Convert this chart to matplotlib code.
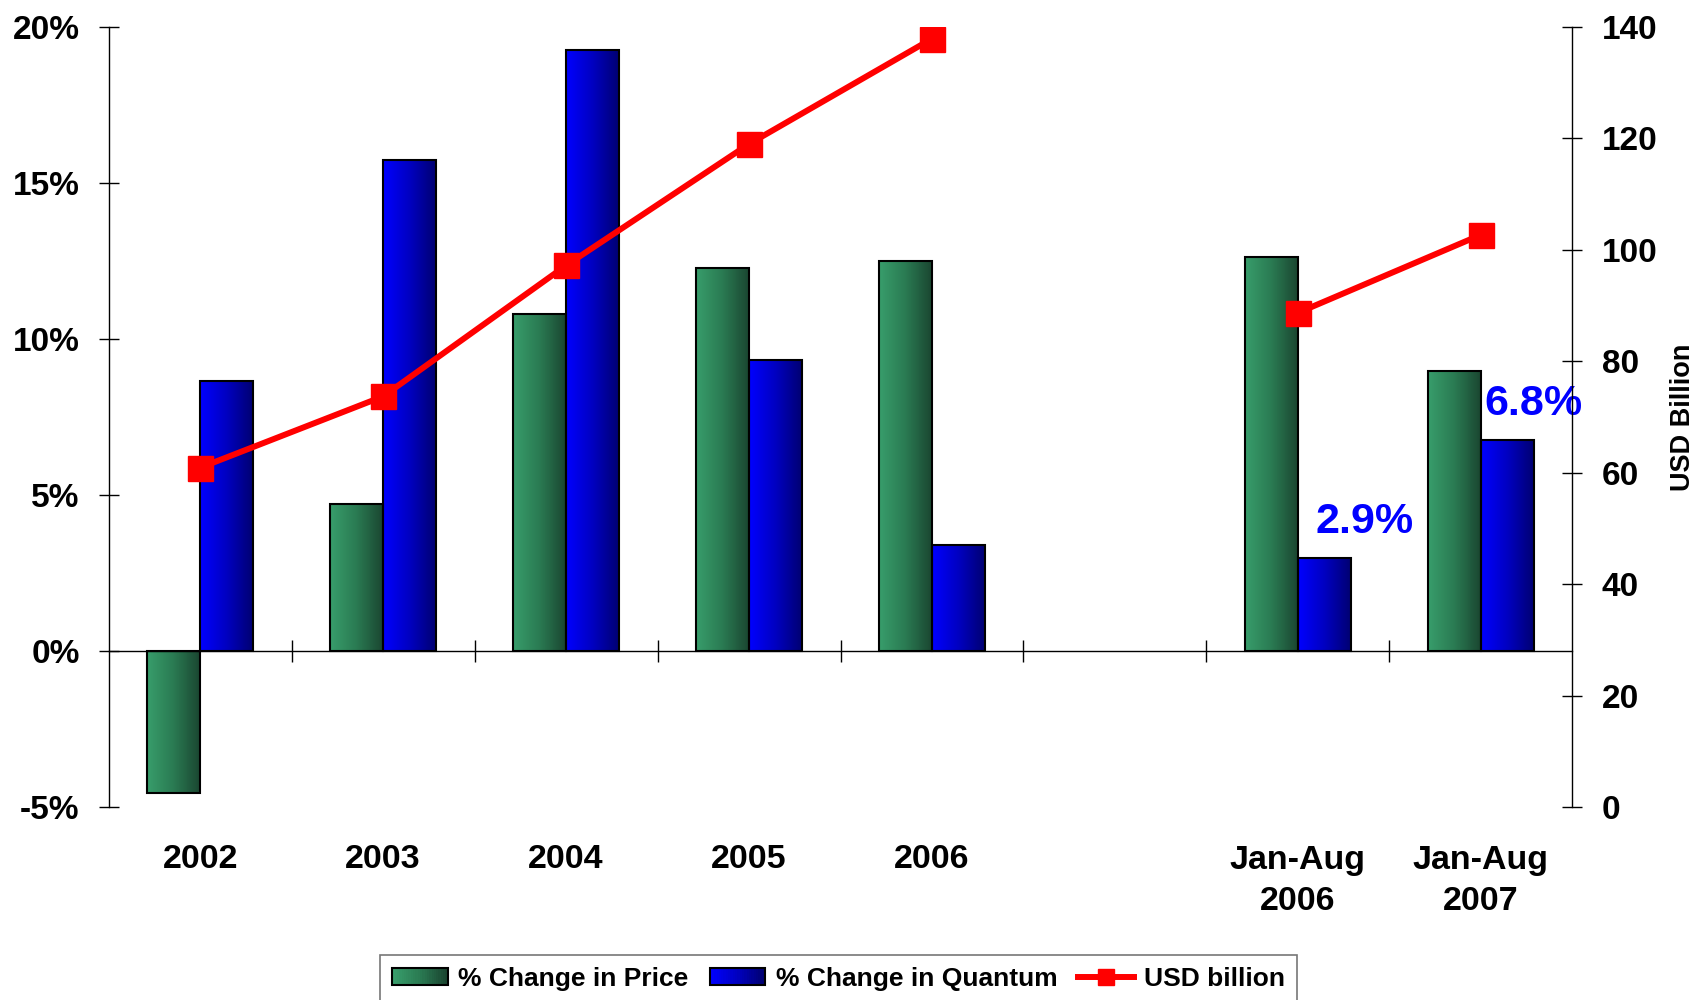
import numpy as np
import matplotlib
matplotlib.use("Agg")
import matplotlib.pyplot as plt
from matplotlib.colors import LinearSegmentedColormap
from matplotlib.patches import Rectangle
from matplotlib.lines import Line2D
from matplotlib.legend_handler import HandlerBase

# ---------- data ----------
CATEGORIES = ["2002", "2003", "2004", "2005", "2006", "", "Jan-Aug\n2006", "Jan-Aug\n2007"]
PRICE_CHG = [-4.55, 4.72, 10.8, 12.26, 12.5, np.nan, 12.64, 8.99]
QUANTUM_CHG = [8.65, 15.73, 19.27, 9.34, 3.4, np.nan, 2.99, 6.77]
USD_BILLION = [60.9, 73.7, 97.2, 119.0, 137.9, np.nan, 88.7, 102.7]
LEFT_TICKS = [-5, 0, 5, 10, 15, 20]
RIGHT_TICKS = [0, 20, 40, 60, 80, 100, 120, 140]
NOTES = {6: "2.9%", 7: "6.8%"}

plt.rcParams["font.family"] = ["Liberation Sans", "DejaVu Sans"]

GREEN = LinearSegmentedColormap.from_list("green", ["#389d6b", "#2a7a52", "#1a4530"])
BLUE = LinearSegmentedColormap.from_list("blue", ["#0000ff", "#0000c0", "#000070"])


def gradient_fill(ax, bars, cmap):
    grad = np.linspace(0, 1, 64).reshape(1, -1)
    for b in bars:
        x, y, w, h = b.get_x(), b.get_y(), b.get_width(), b.get_height()
        im = ax.imshow(grad, cmap=cmap, extent=(x, x + w, min(y, y + h), max(y, y + h)),
                       aspect="auto", origin="lower", zorder=2, interpolation="bilinear")
        im.set_clip_path(b)
        b.set_facecolor("none")


class GradientHandler(HandlerBase):
    def __init__(self, cmap):
        super().__init__()
        self.cmap = cmap

    def create_artists(self, legend, orig_handle, xdescent, ydescent, width, height, fontsize, trans):
        n = 24
        arts = []
        for i in range(n):
            arts.append(Rectangle((-xdescent + width * i / n, -ydescent), width / n + 0.3, height,
                                  facecolor=self.cmap(i / (n - 1)), edgecolor="none", transform=trans))
        arts.append(Rectangle((-xdescent, -ydescent), width, height, facecolor="none",
                              edgecolor="black", lw=1.5, transform=trans))
        return arts


fig = plt.figure(figsize=(16.98, 10), dpi=100)
ax = fig.add_axes([0.064, 0.193, 0.862, 0.78])
ax2 = ax.twinx()

x = np.arange(len(CATEGORIES))
w = 0.29
price = np.array(PRICE_CHG, dtype=float)
qty = np.array(QUANTUM_CHG, dtype=float)
ok = ~np.isnan(price)

b1 = ax.bar(x[ok] - w / 2, price[ok], w, edgecolor="black", linewidth=1.5, zorder=3)
b2 = ax.bar(x[ok] + w / 2, qty[ok], w, edgecolor="black", linewidth=1.5, zorder=3)
gradient_fill(ax, b1, GREEN)
gradient_fill(ax, b2, BLUE)

ax2.plot(x, USD_BILLION, color="#ff0000", lw=4.3, marker="s", markersize=18,
         markeredgecolor="#ff0000", zorder=5)

ax.set_xlim(-0.5, len(CATEGORIES) - 0.5)
ax.set_ylim(-5, 20)
ax2.set_ylim(0, 140)

# axes styling
for s in ["top", "right"]:
    ax.spines[s].set_visible(False)
for s in ["top", "left", "bottom"]:
    ax2.spines[s].set_visible(False)
ax.spines["bottom"].set_position(("data", 0))
ax.spines["bottom"].set_linewidth(1)
ax.spines["left"].set_linewidth(1)
ax2.spines["right"].set_linewidth(1)

ax.set_xticks(np.arange(0.5, len(CATEGORIES) - 1, 1.0))
ax.tick_params(axis="x", direction="inout", length=16, width=1, labelbottom=False)
ax.set_yticks(LEFT_TICKS)
ax.set_yticklabels([f"{t}%" for t in LEFT_TICKS])
ax.tick_params(axis="y", direction="inout", length=14, width=1, pad=14, labelsize=24)
ax2.set_yticks(RIGHT_TICKS)
ax2.tick_params(axis="y", direction="inout", length=14, width=1, pad=14, labelsize=24)
for lbl in ax.get_yticklabels() + ax2.get_yticklabels():
    lbl.set_fontweight("bold")

for i, cat in enumerate(CATEGORIES):
    if cat:
        ax.annotate(cat, (i, 0), xycoords=("data", "axes fraction"), xytext=(0, -27),
                    textcoords="offset points", ha="center", va="top", fontsize=24.5,
                    fontweight="bold", linespacing=1.45)

dx = {6: 0.22, 7: 0.14}
for i, txt in NOTES.items():
    ax.text(i + w / 2 + dx[i], qty[i] + 0.5, txt, ha="center", va="bottom",
            fontsize=31, fontweight="bold", color="#0000ff", zorder=6)

fig.text(0.991, 0.583, "USD Billion", rotation=90, ha="center", va="center",
         fontsize=19.5, fontweight="bold")

# legend
h_price = Rectangle((0, 0), 1, 1)
h_qty = Rectangle((0, 0), 1, 1)
h_usd = Line2D([], [], color="#ff0000", lw=4.3, marker="s", markersize=11)
leg = fig.legend([h_price, h_qty, h_usd],
                 ["% Change in Price", "% Change in Quantum", "USD billion"],
                 handler_map={h_price: GradientHandler(GREEN), h_qty: GradientHandler(BLUE)},
                 loc="upper center", bbox_to_anchor=(0.494, 0.045), borderaxespad=0,
                 ncol=3, frameon=True, fancybox=False, handlelength=2.1, handleheight=0.6,
                 handletextpad=0.4, columnspacing=0.8, borderpad=0.45,
                 prop={"weight": "bold", "size": 19})
leg.get_frame().set_edgecolor("#555555")
leg.get_frame().set_linewidth(1.2)

fig.savefig("out.png", dpi=100)
